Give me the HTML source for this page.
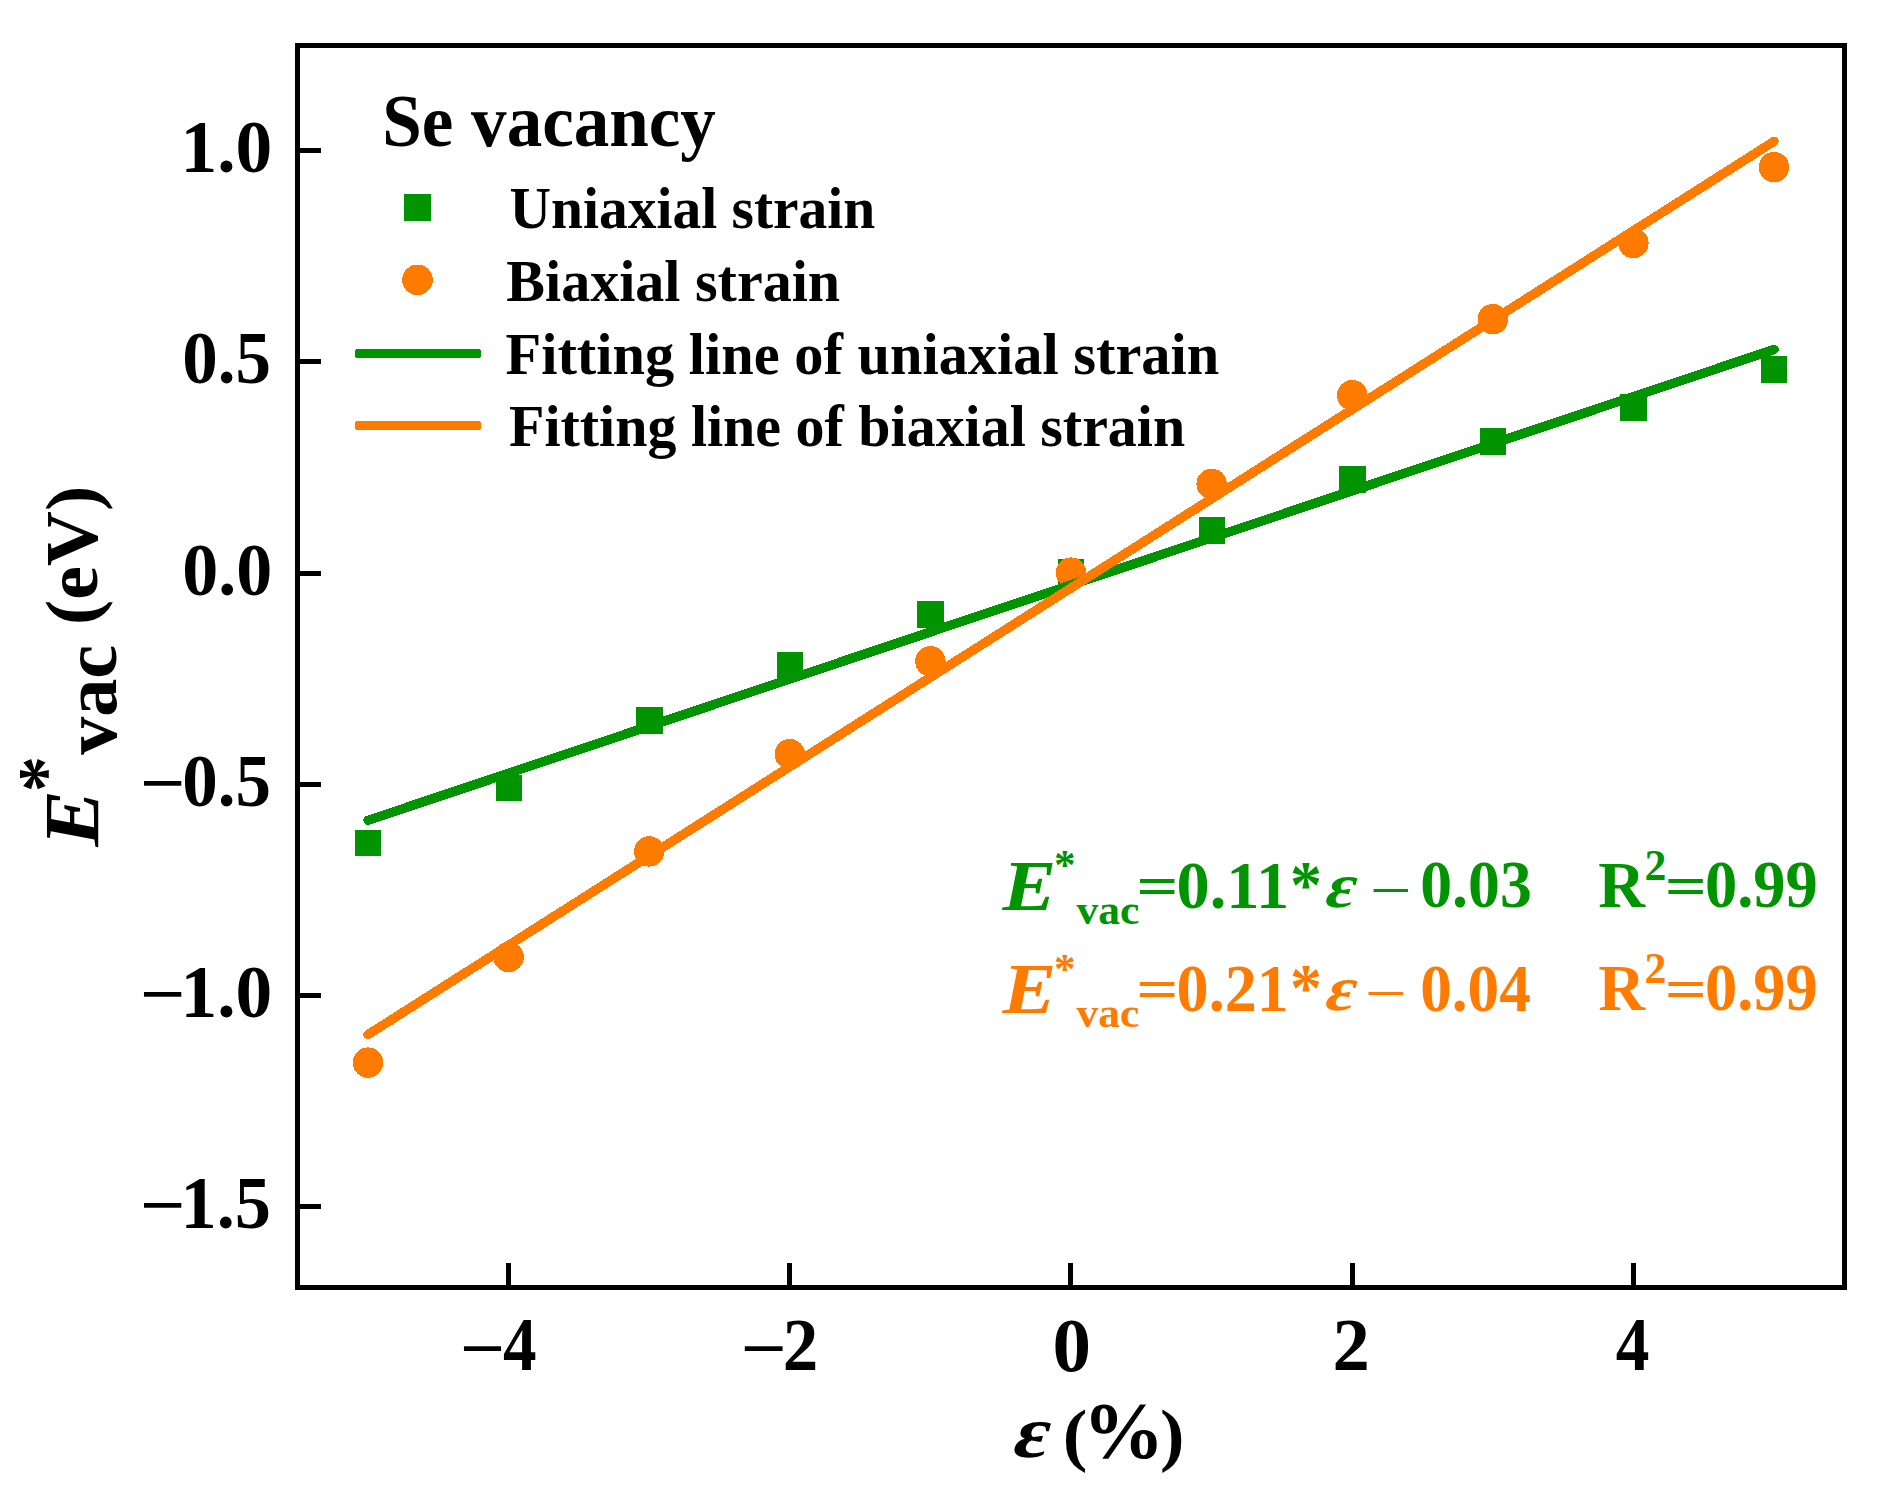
<!DOCTYPE html>
<html lang="en"><head><meta charset="utf-8"><title>Se vacancy - strain</title>
<style>
html,body{margin:0;padding:0;background:#fff;}
body{width:1888px;height:1502px;overflow:hidden;}
svg{display:block;}
text{font-family:"Liberation Serif","Times New Roman",Times,serif;font-weight:bold;}
text.i{font-style:italic;}
text.n{font-weight:normal;}
</style></head><body>
<svg width="1888" height="1502" viewBox="0 0 1888 1502">
<rect x="0" y="0" width="1888" height="1502" fill="#fff"/>
<g fill="#009400" shape-rendering="crispEdges">
<rect x="355" y="830" width="26" height="26"/>
<rect x="496" y="775" width="26" height="26"/>
<rect x="636" y="707" width="27" height="27"/>
<rect x="777" y="652" width="26" height="27"/>
<rect x="917" y="601" width="27" height="27"/>
<rect x="1058" y="559" width="26" height="27"/>
<rect x="1199" y="517" width="26" height="27"/>
<rect x="1339" y="466" width="27" height="27"/>
<rect x="1480" y="428" width="26" height="27"/>
<rect x="1620" y="394" width="27" height="27"/>
<rect x="1761" y="356" width="26" height="27"/>
</g>
<g fill="#FF7B00" shape-rendering="crispEdges">
<circle cx="368.0" cy="1062.6" r="15.2"/>
<circle cx="508.6" cy="957.0" r="15.2"/>
<circle cx="649.2" cy="851.4" r="15.2"/>
<circle cx="789.8" cy="754.2" r="15.2"/>
<circle cx="930.4" cy="661.3" r="15.2"/>
<circle cx="1071.0" cy="572.6" r="15.2"/>
<circle cx="1211.6" cy="483.9" r="15.2"/>
<circle cx="1352.2" cy="395.2" r="15.2"/>
<circle cx="1492.8" cy="319.2" r="15.2"/>
<circle cx="1633.4" cy="243.1" r="15.2"/>
<circle cx="1774.0" cy="167.1" r="15.2"/>
</g>
<line x1="368.0" y1="820.3" x2="1774.0" y2="349.5" stroke="#009400" stroke-width="9.3" stroke-linecap="round" shape-rendering="crispEdges"/>
<line x1="368.0" y1="1034.6" x2="1774.0" y2="141.4" stroke="#FF7B00" stroke-width="9.3" stroke-linecap="round" shape-rendering="crispEdges"/>
<g stroke="#000" stroke-width="5" fill="none" shape-rendering="crispEdges">
<rect x="297.5" y="45.5" width="1547" height="1242"/>
<line x1="297.5" y1="150.5" x2="321" y2="150.5"/>
<line x1="297.5" y1="361.5" x2="321" y2="361.5"/>
<line x1="297.5" y1="573.5" x2="321" y2="573.5"/>
<line x1="297.5" y1="784.5" x2="321" y2="784.5"/>
<line x1="297.5" y1="995.5" x2="321" y2="995.5"/>
<line x1="297.5" y1="1206.5" x2="321" y2="1206.5"/>
<line x1="508.5" y1="1287.5" x2="508.5" y2="1263"/>
<line x1="789.5" y1="1287.5" x2="789.5" y2="1263"/>
<line x1="1070.5" y1="1287.5" x2="1070.5" y2="1263"/>
<line x1="1352.5" y1="1287.5" x2="1352.5" y2="1263"/>
<line x1="1633.5" y1="1287.5" x2="1633.5" y2="1263"/>
</g>
<rect x="404" y="194" width="27" height="27" fill="#009400" shape-rendering="crispEdges"/>
<circle cx="417.5" cy="279.9" r="15.3" fill="#FF7B00" shape-rendering="crispEdges"/>
<rect x="355" y="349" width="126" height="9" rx="3" ry="3" fill="#009400" shape-rendering="crispEdges"/>
<rect x="355" y="421" width="126" height="9" rx="3" ry="3" fill="#FF7B00" shape-rendering="crispEdges"/>
<g>
<text font-size="72" transform="translate(180.52,171.53) scale(1.0199,1.0252)">1.0</text>
<text font-size="72" transform="translate(182.27,382.51) scale(0.9863,1.0248)">0.5</text>
<text font-size="72" transform="translate(182.23,594.53) scale(1.0003,1.0252)">0.0</text>
<text font-size="72" transform="translate(182.27,805.51) scale(0.9863,1.0248)">0.5</text>
<text font-size="72" transform="translate(139.57,806.10) scale(1.1145,0.9522)">−</text>
<text font-size="72" transform="translate(180.52,1016.53) scale(1.0199,1.0252)">1.0</text>
<text font-size="72" transform="translate(139.57,1017.10) scale(1.1145,0.9522)">−</text>
<text font-size="72" transform="translate(180.60,1227.51) scale(1.0053,1.0342)">1.5</text>
<text font-size="72" transform="translate(139.57,1228.10) scale(1.1145,0.9522)">−</text>
<text font-size="72" transform="translate(459.69,1371.90) scale(1.1086,0.9712)">−</text>
<text font-size="72" transform="translate(502.98,1369.90) scale(0.9319,1.0447)">4</text>
<text font-size="72" transform="translate(740.51,1371.90) scale(1.1295,0.9712)">−</text>
<text font-size="72" transform="translate(782.64,1369.90) scale(0.9867,1.0346)">2</text>
<text font-size="72" transform="translate(1052.54,1370.51) scale(1.0696,1.0648)">0</text>
<text font-size="72" transform="translate(1332.49,1369.90) scale(1.0367,1.0346)">2</text>
<text font-size="72" transform="translate(1615.78,1369.90) scale(0.9349,1.0447)">4</text>
<text font-size="72" transform="translate(382.22,146.30) scale(0.9875,1.0160)">Se vacancy</text>
<text font-size="58.4" transform="translate(509.41,227.70) scale(0.9851,1.0000)">Uniaxial strain</text>
<text font-size="58.4" transform="translate(506.34,300.80) scale(0.9939,1.0000)">Biaxial strain</text>
<text font-size="58.4" transform="translate(505.50,373.90) scale(1.0001,1.0000)">Fitting line of uniaxial strain</text>
<text font-size="58.4" transform="translate(509.01,446.20) scale(0.9926,1.0000)">Fitting line of biaxial strain</text>
<text font-size="76" transform="translate(1009.96,1456.82) scale(1.0604,0.9757) skewX(-14)">ε</text>
<text font-size="74" transform="translate(1062.69,1457.60) scale(1.0019,0.9488)">(</text>
<text font-size="74" transform="translate(1082.71,1457.80) scale(1.1023,1.0729)">%</text>
<text font-size="74" transform="translate(1159.92,1457.57) scale(0.9919,0.9468)">)</text>
<text class="i" font-size="72" fill="#009400" transform="translate(1002.39,909.60) scale(1.1202,0.9915)">E</text>
<text font-size="42.7" fill="#009400" transform="translate(1053.92,879.45) scale(1.0119,1.0125)">*</text>
<text font-size="42.7" fill="#009400" transform="translate(1076.50,924.00) scale(1.0213,1.0000)">vac</text>
<text font-size="64" fill="#009400" transform="translate(1136.32,904.98) scale(1.1600,0.9059)">=</text>
<text font-size="64" fill="#009400" transform="translate(1176.52,907.50) scale(1.0379,1.0666)">0.11</text>
<text font-size="64" fill="#009400" transform="translate(1289.99,907.00) scale(0.9972,1.0500)">*</text>
<text font-size="64" fill="#009400" transform="translate(1322.22,907.01) scale(1.0486,0.9930) skewX(-16)">ε</text>
<text class="n" font-size="64" fill="#009400" transform="translate(1374.05,904.50) scale(1.0498,0.9536)">–</text>
<text font-size="64" fill="#009400" transform="translate(1420.21,907.48) scale(0.9963,1.0661)">0.03</text>
<text font-size="64" fill="#009400" transform="translate(1598.29,906.80) scale(1.0130,1.0095)">R</text>
<text font-size="42.7" fill="#009400" transform="translate(1644.55,880.20) scale(1.0273,1.0286)">2</text>
<text font-size="64" fill="#009400" transform="translate(1664.83,904.98) scale(1.1567,0.9059)">=</text>
<text font-size="64" fill="#009400" transform="translate(1704.88,907.30) scale(1.0093,1.0690)">0.99</text>
<text class="i" font-size="72" fill="#FF7B00" transform="translate(1002.39,1012.70) scale(1.1202,0.9915)">E</text>
<text font-size="42.7" fill="#FF7B00" transform="translate(1053.92,982.55) scale(1.0119,1.0125)">*</text>
<text font-size="42.7" fill="#FF7B00" transform="translate(1076.50,1027.10) scale(1.0213,1.0000)">vac</text>
<text font-size="64" fill="#FF7B00" transform="translate(1136.32,1008.08) scale(1.1600,0.9059)">=</text>
<text font-size="64" fill="#FF7B00" transform="translate(1176.60,1010.60) scale(1.0009,1.0666)">0.21</text>
<text font-size="64" fill="#FF7B00" transform="translate(1289.99,1010.10) scale(0.9972,1.0500)">*</text>
<text font-size="64" fill="#FF7B00" transform="translate(1322.22,1010.11) scale(1.0486,0.9930) skewX(-16)">ε</text>
<text class="n" font-size="64" fill="#FF7B00" transform="translate(1369.05,1007.60) scale(1.0498,0.9536)">–</text>
<text font-size="64" fill="#FF7B00" transform="translate(1420.23,1010.60) scale(0.9872,1.0666)">0.04</text>
<text font-size="64" fill="#FF7B00" transform="translate(1598.29,1009.90) scale(1.0130,1.0095)">R</text>
<text font-size="42.7" fill="#FF7B00" transform="translate(1644.55,983.30) scale(1.0273,1.0286)">2</text>
<text font-size="64" fill="#FF7B00" transform="translate(1664.83,1008.08) scale(1.1567,0.9059)">=</text>
<text font-size="64" fill="#FF7B00" transform="translate(1704.88,1010.40) scale(1.0093,1.0690)">0.99</text>
</g>
<g transform="rotate(-90)">
<text class="i" font-size="76" transform="translate(-846.67,98.20) scale(1.1172,1.0220)">E</text>
<text font-size="76" transform="translate(-792.36,69.60) scale(0.9524,1.0000)">*</text>
<text font-size="76" transform="translate(-754.80,116.01) scale(1.0019,0.9892)">vac</text>
<text font-size="76" transform="translate(-625.00,97.10) scale(1.0000,0.9660)">(eV)</text>
</g>
</svg></body></html>
